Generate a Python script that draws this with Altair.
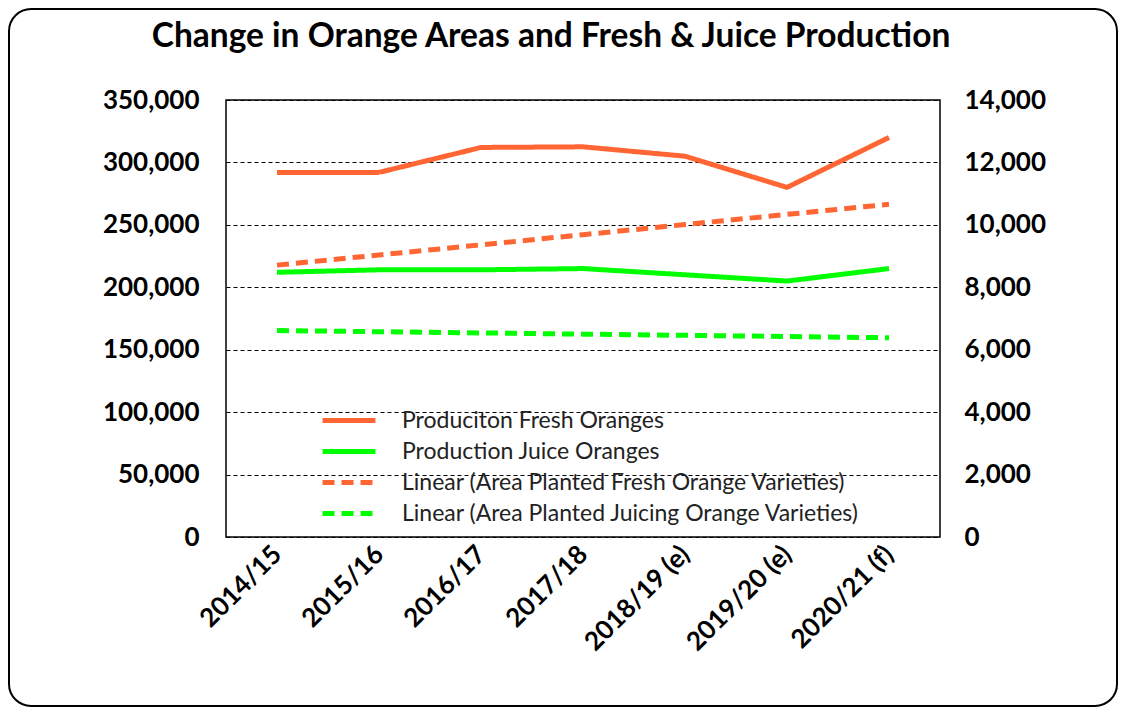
import altair as alt
import pandas as pd

categories = ["2014/15", "2015/16", "2016/17", "2017/18", "2018/19 (e)", "2019/20 (e)", "2020/21 (f)"]
fresh_production = [292000, 292000, 312000, 312500, 305000, 280000, 320000]
juice_production = [212000, 214000, 214000, 215000, 210000, 205000, 215000]
fresh_area_trend = [8710, 9035, 9360, 9685, 10010, 10335, 10660]
juice_area_trend = [6615, 6576, 6538, 6499, 6461, 6422, 6384]

series_names = [
    "Produciton Fresh Oranges",
    "Production Juice Oranges",
    "Linear (Area Planted Fresh Orange Varieties)",
    "Linear (Area Planted Juicing Orange Varieties)",
]
series_colors = ["#FF6633", "#00FF00", "#FF6633", "#00FF00"]
series_dashes = [[1, 0], [1, 0], [12, 7], [12, 7]]
chart_title = "Change in Orange Areas and Fresh & Juice Production"

prod_rows = []
for c, v in zip(categories, fresh_production):
    prod_rows.append({"cat": c, "value": v, "series": series_names[0]})
for c, v in zip(categories, juice_production):
    prod_rows.append({"cat": c, "value": v, "series": series_names[1]})
area_rows = []
for c, v in zip(categories, fresh_area_trend):
    area_rows.append({"cat": c, "value": v, "series": series_names[2]})
for c, v in zip(categories, juice_area_trend):
    area_rows.append({"cat": c, "value": v, "series": series_names[3]})

prod_df = pd.DataFrame(prod_rows)
area_df = pd.DataFrame(area_rows)

FONT = "Lato"

x_enc = alt.X(
    "cat:N",
    sort=categories,
    scale=alt.Scale(domain=categories, paddingInner=0, paddingOuter=0.5),
    axis=alt.Axis(
        title=None, labelAngle=-45, labelAlign="right", labelBaseline="middle",
        labelFontSize=26, labelFontWeight="bold", labelFont=FONT, labelColor="black",
        ticks=False, domain=False, labelPadding=13, grid=False,
    ),
)

legend_cfg = dict(
    title=None, orient="none", legendX=94, legendY=305,
    symbolType="stroke", symbolSize=2800, symbolStrokeWidth=5,
    labelFontSize=23, labelFont=FONT, labelColor="#222", labelLimit=700,
    rowPadding=0, clipHeight=31, labelOffset=24, symbolOpacity=1,
)

color_enc = alt.Color(
    "series:N",
    scale=alt.Scale(domain=series_names, range=series_colors),
    legend=alt.Legend(**legend_cfg),
)
dash_enc = alt.StrokeDash(
    "series:N",
    scale=alt.Scale(domain=series_names, range=series_dashes),
    legend=alt.Legend(**legend_cfg),
)

prod = alt.Chart(prod_df).mark_line(strokeWidth=5).encode(
    x=x_enc,
    y=alt.Y(
        "value:Q",
        scale=alt.Scale(domain=[0, 350000], nice=False),
        axis=alt.Axis(
            title=None, orient="left", values=list(range(0, 350001, 50000)),
            format=",.0f", labelFontSize=26, labelFontWeight="bold", labelFont=FONT,
            labelColor="black", ticks=False, domain=False, labelPadding=27,
            grid=True, gridColor="black", gridDash=[4, 3], gridWidth=1,
        ),
    ),
    color=color_enc,
    strokeDash=dash_enc,
    detail="series:N",
)

area = alt.Chart(area_df).mark_line(strokeWidth=5).encode(
    x=x_enc,
    y=alt.Y(
        "value:Q",
        scale=alt.Scale(domain=[0, 14000], nice=False),
        axis=alt.Axis(
            title=None, orient="right", values=list(range(0, 14001, 2000)),
            format=",.0f", labelFontSize=26, labelFontWeight="bold", labelFont=FONT,
            labelColor="black", ticks=False, domain=False, labelPadding=24,
            grid=False,
        ),
    ),
    color=color_enc,
    strokeDash=dash_enc,
    detail="series:N",
)

frame = alt.Chart(pd.DataFrame({"a": [0]})).mark_rect(
    fillOpacity=0, stroke="black", strokeWidth=2, cornerRadius=22
).encode(
    x=alt.value(-217), x2=alt.value(891), y=alt.value(-91), y2=alt.value(606)
)

title = alt.Chart(pd.DataFrame({"t": [chart_title]})).mark_text(
    font=FONT, fontSize=33.5, fontWeight="bold", color="black",
    align="center", baseline="alphabetic",
).encode(
    text="t:N", x=alt.value(325), y=alt.value(-53)
)

chart = alt.layer(frame, title, prod, area).resolve_scale(y="independent").properties(
    width=714,
    height=437,
    autosize=alt.AutoSizeParams(type="none"),
    padding={"left": 218, "top": 92, "right": 178, "bottom": 170},
).configure(background="white").configure_view(stroke="black", strokeWidth=1.5)

chart.save("out.html", embed_options={"renderer": "svg", "actions": False})
